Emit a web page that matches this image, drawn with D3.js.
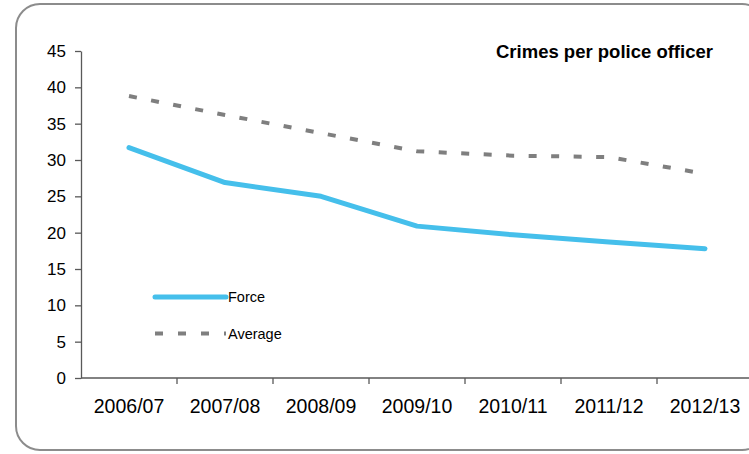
<!DOCTYPE html>
<html>
	<head>
		<title>Crimes per police officer</title>
		<style type="text/css">
			body{ margin: 0; background: #fff; }
			#board{ width: 749px; height: 454px; }
			text{ font-family: "Liberation Sans", Arial, sans-serif; fill: #000; }
		</style>
	</head>
	<body>
		<div id="board"></div>

	<script type="text/javascript" src="https://cdn.jsdelivr.net/npm/d3@7"></script>
	<script>
		var years = ['2006/07','2007/08','2008/09','2009/10','2010/11','2011/12','2012/13'];
		var force = [31.7, 26.9, 25.0, 20.9, 19.7, 18.7, 17.8];
		var average = [38.8, 36.2, 33.7, 31.2, 30.6, 30.4, 28.1];
		var yTicks = [0, 5, 10, 15, 20, 25, 30, 35, 40, 45];

		var svg = d3.select('#board').append('svg')
				.attr('width', 749).attr('height', 454);

		// outer frame
		svg.append('rect')
			.attr('x', 16).attr('y', 4)
			.attr('width', 750).attr('height', 446)
			.attr('rx', 24).attr('ry', 24)
			.style('fill', 'none').style('stroke', '#8c8c8c').style('stroke-width', 2);

		var x = d3.scaleBand().domain(years).range([81, 753]);
		var y = d3.scaleLinear().domain([0, 45]).range([378, 51]);

		var yAxis = svg.append('g')
			.attr('transform', 'translate(81,0)')
			.call(d3.axisLeft(y).tickValues(yTicks).tickSize(6).tickPadding(9).tickSizeOuter(0));
		yAxis.selectAll('text').style('font-size', '17px');

		var xAxis = svg.append('g')
			.attr('transform', 'translate(0,378)')
			.call(d3.axisBottom(x).tickSize(0).tickPadding(21));
		xAxis.selectAll('text').style('font-size', '19.5px');
		xAxis.select('.domain').attr('d', 'M81,0H749');
		// ticks between categories
		xAxis.selectAll('.sep')
			.data(years.slice(1))
			.enter().append('line')
			.attr('class', 'sep')
			.attr('x1', function(d){ return x(d); })
			.attr('x2', function(d){ return x(d); })
			.attr('y1', 0).attr('y2', 6);

		svg.selectAll('.domain, .tick line, .sep')
			.style('stroke', '#595959').style('stroke-width', 1.3);

		var line = d3.line()
			.x(function(d, i){ return x(years[i]) + x.bandwidth() / 2; })
			.y(function(d){ return y(d); });

		svg.append('path')
			.datum(average)
			.attr('d', line)
			.style('fill', 'none').style('stroke', '#7f7f7f')
			.style('stroke-width', 4).style('stroke-dasharray', '8,14.5');

		svg.append('path')
			.datum(force)
			.attr('d', line)
			.style('fill', 'none').style('stroke', '#45bfeb')
			.style('stroke-width', 5).style('stroke-linecap', 'round').style('stroke-linejoin', 'round');

		// title
		svg.append('text')
			.attr('x', 496).attr('y', 58)
			.style('font-size', '18.5px').style('font-weight', 'bold')
			.text('Crimes per police officer');

		// legend
		var legend = [
			{ name: 'Force', color: '#45bfeb', width: 5, dash: null, cap: 'round' },
			{ name: 'Average', color: '#7f7f7f', width: 4, dash: '8,15', cap: 'butt' }
		];
		var lg = svg.selectAll('.legend')
			.data(legend)
			.enter().append('g')
			.attr('class', 'legend')
			.attr('transform', function(d, i){ return 'translate(0,' + (297 + i * 36.5) + ')'; });
		lg.append('line')
			.attr('x1', 155).attr('x2', 226).attr('y1', 0).attr('y2', 0)
			.style('stroke', function(d){ return d.color; })
			.style('stroke-width', function(d){ return d.width; })
			.style('stroke-dasharray', function(d){ return d.dash; })
			.style('stroke-linecap', function(d){ return d.cap; });
		lg.append('text')
			.attr('x', 228).attr('y', 5)
			.style('font-size', '14.5px')
			.text(function(d){ return d.name; });
	</script>
	</body>
</html>
